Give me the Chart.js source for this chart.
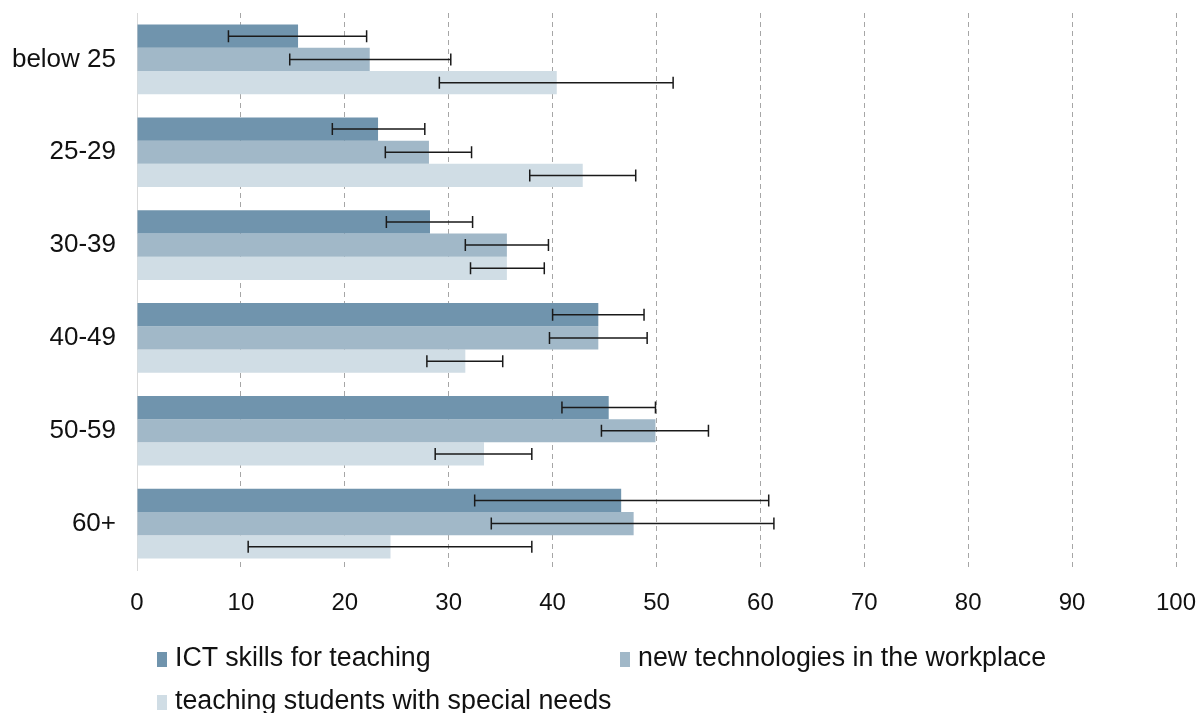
<!DOCTYPE html>
<html>
<head>
<meta charset="utf-8">
<script src="https://cdn.jsdelivr.net/npm/chart.js@4.4.1/dist/chart.umd.min.js"></script>
<style>
  body { margin: 0; background: #fff; }
  #wrap { position: relative; width: 1201px; height: 713px; overflow: hidden; }
  .legend-item { position: absolute; font-family: Arial, "Liberation Sans", sans-serif; font-size: 26.8px; color: #111; white-space: nowrap; line-height: 30px; }
  .legend-item span.box { display: inline-block; width: 10px; height: 15px; margin-right: 8px; vertical-align: -1px; }
</style>
</head>
<body>
<div id="wrap">
  <canvas id="chart" width="1201" height="713"></canvas>
  <div class="legend-item" style="left:157px; top:642px;"><span class="box" style="background:#7094ad"></span>ICT skills for teaching</div>
  <div class="legend-item" style="left:620px; top:642px;"><span class="box" style="background:#a1b8c8"></span>new technologies in the workplace</div>
  <div class="legend-item" style="left:157px; top:685px;"><span class="box" style="background:#d0dde5"></span>teaching students with special needs</div>
</div>
<script>
const ageGroups = ["below 25", "25-29", "30-39", "40-49", "50-59", "60+"];
const xTicks = [0, 10, 20, 30, 40, 50, 60, 70, 80, 90, 100];

// bar values
const ictSkills = [15.5, 23.2, 28.2, 44.4, 45.4, 46.6];
const newTech = [22.4, 28.1, 35.6, 44.4, 49.9, 47.8];
const specialNeeds = [40.4, 42.9, 35.6, 31.6, 33.4, 24.4];

// error bar ends (low, high)
const ictLow = [8.8, 18.8, 24.0, 40.0, 40.9, 32.5];
const ictHigh = [22.1, 27.7, 32.3, 48.8, 49.9, 60.8];
const newTechLow = [14.7, 23.9, 31.6, 39.7, 44.7, 34.1];
const newTechHigh = [30.2, 32.2, 39.6, 49.1, 55.0, 61.3];
const specialLow = [29.1, 37.8, 32.1, 27.9, 28.7, 10.7];
const specialHigh = [51.6, 48.0, 39.2, 35.2, 38.0, 38.0];

const errorRanges = [
    [ictLow, ictHigh],
    [newTechLow, newTechHigh],
    [specialLow, specialHigh]
];

// draws the black whiskers on top of the bars
const errorBars = {
    id: "errorBars",
    afterDatasetsDraw(chart) {
        const ctx = chart.ctx;
        const xScale = chart.scales.x;
        ctx.save();
        ctx.strokeStyle = "#1a1a1a";
        ctx.lineWidth = 1.5;
        chart.data.datasets.forEach((ds, i) => {
            const meta = chart.getDatasetMeta(i);
            meta.data.forEach((bar, j) => {
                const x1 = xScale.getPixelForValue(errorRanges[i][0][j]);
                const x2 = xScale.getPixelForValue(errorRanges[i][1][j]);
                const y = bar.y;
                ctx.beginPath();
                ctx.moveTo(x1, y);
                ctx.lineTo(x2, y);
                ctx.moveTo(x1, y - 6);
                ctx.lineTo(x1, y + 6);
                ctx.moveTo(x2, y - 6);
                ctx.lineTo(x2, y + 6);
                ctx.stroke();
            });
        });
        ctx.restore();
    }
};

const ctx = document.getElementById("chart").getContext("2d");
new Chart(ctx, {
    type: "bar",
    data: {
        labels: ageGroups,
        datasets: [
            { label: "ICT skills for teaching", data: ictSkills, backgroundColor: "#7094ad" },
            { label: "new technologies in the workplace", data: newTech, backgroundColor: "#a1b8c8" },
            { label: "teaching students with special needs", data: specialNeeds, backgroundColor: "#d0dde5" }
        ]
    },
    options: {
        indexAxis: "y",
        responsive: false,
        animation: false,
        barPercentage: 1,
        categoryPercentage: 0.75,
        layout: { padding: { top: 13, right: 25, bottom: 0, left: 0 } },
        plugins: {
            legend: { display: false },
            tooltip: { enabled: false }
        },
        scales: {
            x: {
                min: xTicks[0],
                max: xTicks[xTicks.length - 1],
                afterBuildTicks: (scale) => { scale.ticks = xTicks.map(v => ({ value: v })); },
                afterFit: (scale) => {
                    scale.height = 143;
                    scale.paddingLeft = 0;
                    scale.paddingRight = 0;
                },
                grid: {
                    drawTicks: false,
                    color: (c) => (c.tick && c.tick.value === 0) ? "rgba(0,0,0,0)" : "#a6a6a6",
                    lineWidth: 1
                },
                border: { display: false, dash: [5, 4] },
                ticks: {
                    padding: 19,
                    color: "#111",
                    font: { family: "Arial, 'Liberation Sans', sans-serif", size: 24 }
                }
            },
            y: {
                afterFit: (scale) => {
                    scale.width = 137;
                    scale.paddingTop = 0;
                    scale.paddingBottom = 0;
                },
                grid: { display: false, drawTicks: false },
                border: { display: true, color: "#d9d9d9", width: 1 },
                ticks: {
                    padding: 21,
                    color: "#111",
                    font: { family: "Arial, 'Liberation Sans', sans-serif", size: 26 }
                }
            }
        }
    },
    plugins: [errorBars]
});
</script>
</body>
</html>
